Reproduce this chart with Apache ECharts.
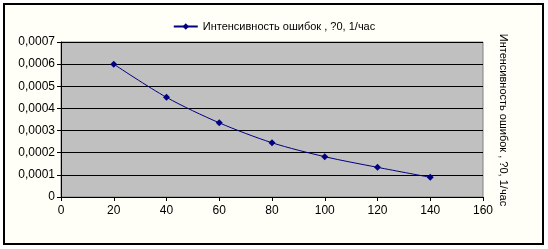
<!DOCTYPE html>
<html><head><meta charset="utf-8">
<script src="https://cdn.jsdelivr.net/npm/echarts@6/dist/echarts.min.js"></script>
<style>html,body{margin:0;padding:0;background:#fff}#c{width:548px;height:249px}</style>
</head><body><div id="c"></div>
<script>
const categories = [20, 40, 60, 80, 100, 120, 140];
const intensity = [0.0006, 0.00045, 0.000335, 0.000245, 0.000182, 0.000134, 0.000089];
const seriesName = 'Интенсивность ошибок , ?0, 1/час';
const xTicks = {min: 0, max: 160, interval: 20};
const yTicks = {min: 0, max: 0.0007, interval: 0.0001};

const chart = echarts.init(document.getElementById('c'), null, {renderer: 'canvas'});
const font = 'Liberation Sans, Arial, sans-serif';
chart.setOption({
  animation: false,
  backgroundColor: '#fff',
  textStyle: {fontFamily: font},
  graphic: [
    {type: 'rect', shape: {x: 4, y: 4, width: 539, height: 240}, style: {fill: '#FFFFF7', stroke: '#000', lineWidth: 2}, z: -10},
    {type: 'text', x: 503, y: 120, rotation: -Math.PI / 2,
     style: {text: seriesName, fill: '#000', font: '11px ' + font, align: 'center', verticalAlign: 'middle'}}
  ],
  legend: {
    top: 16, left: 'center',
    itemWidth: 24, itemHeight: 8, itemGap: 4,
    textStyle: {fontSize: 11, color: '#000', fontFamily: font},
    data: [{name: seriesName}]
  },
  grid: {left: 61, right: 65, top: 42, bottom: 52, show: true, backgroundColor: '#C0C0C0', borderColor: '#808080', borderWidth: 1},
  xAxis: {
    type: 'value', min: xTicks.min, max: xTicks.max, interval: xTicks.interval,
    axisLine: {lineStyle: {color: '#000', width: 1}},
    axisTick: {show: true, length: 4, lineStyle: {color: '#000'}},
    axisLabel: {color: '#000', fontSize: 12, margin: 8, fontFamily: font},
    splitLine: {show: false}
  },
  yAxis: {
    type: 'value', min: yTicks.min, max: yTicks.max, interval: yTicks.interval,
    axisLine: {show: true, lineStyle: {color: '#000', width: 1}},
    axisTick: {show: true, length: 4, inside: false, lineStyle: {color: '#000'}},
    axisLabel: {color: '#000', fontSize: 12, margin: 6, fontFamily: font,
      formatter: v => v === 0 ? '0' : v.toFixed(4).replace('.', ',')},
    splitLine: {show: true, lineStyle: {color: '#000', width: 1}}
  },
  series: [{
    name: seriesName, type: 'line', smooth: 0.3,
    data: categories.map((c, i) => [c, intensity[i]]),
    symbol: 'diamond', symbolSize: 7,
    itemStyle: {color: '#000080'},
    lineStyle: {color: '#000080', width: 1}
  }]
});
</script></body></html>
